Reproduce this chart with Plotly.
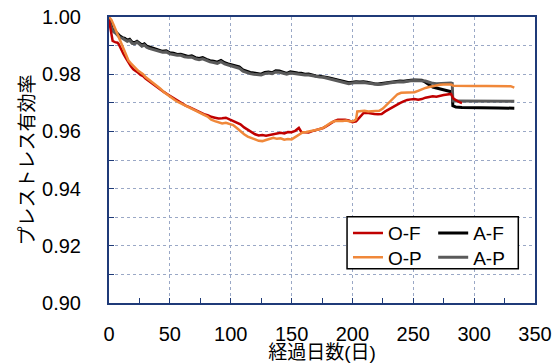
import plotly.graph_objects as go

# ---- data ----
af_days = [0, 1, 2, 3, 5, 7, 9, 11, 13, 15, 17, 19, 21, 23, 25, 27, 29, 31, 33, 35, 38, 41, 44, 47, 50,
           53, 56, 59, 62, 65, 68, 71, 74, 77, 80, 83, 86, 89, 92, 95, 98, 101, 104, 107, 110, 113, 116,
           119, 122, 125, 128, 131, 134, 137, 140, 143, 146, 149, 152, 155, 158, 161, 164, 167, 170, 173,
           176, 179, 182, 185, 188, 191, 194, 197, 200, 203, 206, 209, 212, 215, 218, 221, 224, 227, 230,
           233, 236, 239, 242, 245, 248, 251, 254, 257, 260, 263, 266, 269, 272, 275, 278, 281, 282, 282.5,
           285, 290, 300, 310, 320, 333]
af_vals = [0.9995, 0.998, 0.997, 0.9955, 0.995, 0.994, 0.9933, 0.9928, 0.9925, 0.9918, 0.9922, 0.9912,
           0.991, 0.9915, 0.991, 0.9902, 0.9906, 0.9898, 0.9895, 0.9893, 0.9888, 0.9884, 0.988, 0.9882,
           0.9875, 0.9873, 0.9869, 0.987, 0.9865, 0.9862, 0.9864, 0.9858, 0.9855, 0.9858, 0.9852, 0.9847,
           0.9845, 0.9842, 0.9848, 0.984, 0.9836, 0.9833, 0.9828, 0.9826, 0.9815, 0.981, 0.9806, 0.9804,
           0.9802, 0.98, 0.9806, 0.9808, 0.9805, 0.9812, 0.9811, 0.9807, 0.9803, 0.9808, 0.9805, 0.9804,
           0.9803, 0.98, 0.9801, 0.9797, 0.9794, 0.9793, 0.9792, 0.9789, 0.9786, 0.9783, 0.978, 0.9777,
           0.9773, 0.977, 0.9772, 0.9774, 0.9773, 0.9774, 0.9772, 0.9769, 0.9767, 0.9766, 0.9768, 0.9768,
           0.9771, 0.9773, 0.9775, 0.9776, 0.9775, 0.9778, 0.9779, 0.978, 0.978, 0.9779, 0.9772, 0.9762,
           0.9755, 0.9752, 0.9749, 0.9746, 0.9743, 0.974, 0.9738, 0.969, 0.9685, 0.9684, 0.9684, 0.9683,
           0.9682, 0.9681]

ap_days = af_days
ap_vals = [0.9985, 0.9975, 0.9965, 0.9952, 0.9945, 0.9935, 0.9928, 0.9926, 0.992, 0.9915, 0.9918, 0.9908,
           0.9906, 0.9912, 0.9905, 0.9898, 0.9902, 0.9894, 0.989, 0.9888, 0.9884, 0.988, 0.9877, 0.9878,
           0.9871, 0.9869, 0.9866, 0.9866, 0.9861, 0.9859, 0.986, 0.9854, 0.9851, 0.9854, 0.9848, 0.9843,
           0.9841, 0.9838, 0.9844, 0.9836, 0.9832, 0.9829, 0.9824, 0.9821, 0.9811, 0.9806, 0.9802, 0.98,
           0.9798, 0.9797, 0.9802, 0.9804, 0.9802, 0.9808, 0.9807, 0.9803, 0.98, 0.9804, 0.9802, 0.98,
           0.9799, 0.9797, 0.9797, 0.9794, 0.9791, 0.979, 0.9789, 0.9786, 0.9783, 0.978, 0.9777, 0.9774,
           0.977, 0.9767, 0.9769, 0.9771, 0.977, 0.9771, 0.9769, 0.9767, 0.9765, 0.9764, 0.9765, 0.9766,
           0.9769, 0.9771, 0.9773, 0.9774, 0.9773, 0.9776, 0.9777, 0.9778, 0.9778, 0.9777, 0.9776, 0.9772,
           0.9768, 0.9767, 0.9768, 0.9768, 0.9769, 0.9769, 0.9768, 0.9706, 0.9706, 0.9706, 0.9706, 0.9706,
           0.9706, 0.9705]

of_days = [0, 1, 2, 3, 5, 7, 8, 10, 12, 14, 16, 18, 20, 22, 24, 26, 28, 30, 33, 36, 39, 42, 45, 48, 51,
           54, 57, 60, 63, 66, 69, 72, 75, 78, 81, 84, 87, 90, 93, 96, 99, 102, 105, 108, 111, 114, 117,
           120, 123, 126, 129, 132, 135, 138, 141, 144, 147, 150, 153, 156, 158, 161, 164, 167, 170, 173,
           176, 179, 182, 185, 188, 191, 194, 197, 200, 203, 206, 209, 212, 215, 218, 221, 224, 227, 230,
           233, 236, 239, 242, 245, 248, 251, 254, 257, 260, 263, 266, 269, 272, 275, 278, 281, 283, 286,
           288, 290]
of_vals = [0.999, 0.996, 0.993, 0.9916, 0.9912, 0.991, 0.9905, 0.9885, 0.987, 0.9855, 0.984, 0.9828,
           0.9817, 0.9812, 0.9805, 0.9797, 0.9793, 0.9785, 0.9775, 0.9766, 0.9758, 0.9748, 0.9738, 0.973,
           0.9722, 0.9714, 0.9705, 0.9698, 0.969, 0.9685, 0.9679, 0.9672, 0.9667, 0.966, 0.9657, 0.9651,
           0.9648, 0.9645, 0.9646, 0.9648, 0.9642, 0.9637, 0.9632, 0.9625, 0.9614, 0.9605, 0.9596, 0.959,
           0.9586, 0.9587, 0.9585, 0.9588, 0.959, 0.9592, 0.9595, 0.9593, 0.9598, 0.9597, 0.9602, 0.9612,
           0.9598, 0.9597, 0.9596, 0.9601, 0.9605, 0.9607, 0.9612, 0.9619, 0.9628, 0.9636, 0.9641, 0.9642,
           0.9641, 0.9638, 0.9632, 0.9635, 0.9648, 0.9664, 0.9665, 0.9662, 0.9661, 0.966, 0.9661, 0.967,
           0.9678, 0.9684, 0.9692, 0.9699, 0.9705, 0.971, 0.9712, 0.9713, 0.9711, 0.9713, 0.9718, 0.972,
           0.9723, 0.9721, 0.9725, 0.9727, 0.9729, 0.9731, 0.9715, 0.9706, 0.9702, 0.9699]

op_days = [0, 2, 4, 6, 8, 10, 12, 14, 16, 18, 20, 22, 24, 26, 28, 30, 33, 36, 39, 42, 45, 48, 51, 54, 57,
           60, 63, 66, 69, 72, 75, 78, 81, 84, 87, 90, 93, 96, 99, 102, 105, 108, 111, 114, 117, 120, 123,
           126, 129, 132, 135, 138, 141, 144, 147, 150, 153, 156, 159, 162, 165, 168, 171, 174, 177, 180,
           183, 186, 189, 192, 195, 198, 201, 203, 204, 207, 210, 213, 216, 219, 222, 225, 228, 231, 234,
           237, 240, 244, 248, 251, 254, 257, 260, 263, 266, 269, 272, 275, 278, 281, 283, 290, 300, 310,
           320, 330, 333]
op_vals = [1.0, 0.999, 0.997, 0.995, 0.9925, 0.9905, 0.9885, 0.9865, 0.9848, 0.9838, 0.9828, 0.982,
           0.9812, 0.9806, 0.98, 0.979, 0.978, 0.9772, 0.976, 0.975, 0.9738, 0.9728, 0.9718, 0.971, 0.9702,
           0.9695, 0.9689, 0.9684, 0.9677, 0.9671, 0.9663, 0.9658, 0.9652, 0.9641, 0.9636, 0.9632, 0.9628,
           0.963, 0.9625, 0.9622, 0.9612, 0.96, 0.959, 0.9582, 0.9578, 0.9572, 0.9567, 0.9566, 0.957,
           0.9575, 0.9578, 0.9574, 0.9576, 0.9571, 0.9573, 0.9572, 0.958, 0.959, 0.9596, 0.9598, 0.96,
           0.9603, 0.9606, 0.9609, 0.9615, 0.9624, 0.9632, 0.9636, 0.9635, 0.9636, 0.9638, 0.9635, 0.9636,
           0.9642, 0.967, 0.9671, 0.9672, 0.967, 0.9671, 0.967, 0.9672, 0.968, 0.9693, 0.9706, 0.9718,
           0.973, 0.9735, 0.9735, 0.9736, 0.9737, 0.9742, 0.9748, 0.9752, 0.9755, 0.9758, 0.976, 0.9763,
           0.9764, 0.9764, 0.9764, 0.976, 0.9759, 0.9759, 0.9759, 0.9759, 0.9758, 0.9753]

x_tick_vals = [0, 50, 100, 150, 200, 250, 300, 350]
y_tick_vals = [0.90, 0.92, 0.94, 0.96, 0.98, 1.00]

FONT = "Liberation Sans, Arial, Noto Sans CJK JP, sans-serif"
AXIS_COLOR = "#1F3A78"
GRID_COLOR = "#9AA8C6"

fig = go.Figure()
fig.add_trace(go.Scatter(x=af_days, y=af_vals, mode="lines", name="A-F",
                         line=dict(color="#000000", width=3), legend="legend2"))
fig.add_trace(go.Scatter(x=ap_days, y=ap_vals, mode="lines", name="A-P",
                         line=dict(color="#5A5A5A", width=3), legend="legend4"))
fig.add_trace(go.Scatter(x=of_days, y=of_vals, mode="lines", name="O-F",
                         line=dict(color="#C00000", width=2.5), legend="legend"))
fig.add_trace(go.Scatter(x=op_days, y=op_vals, mode="lines", name="O-P",
                         line=dict(color="#F0883A", width=2.5), legend="legend3"))

legend_common = dict(bgcolor="rgba(0,0,0,0)", borderwidth=0,
                     font=dict(family=FONT, size=19, color="#000000"),
                     yanchor="top", xanchor="left", tracegroupgap=0)

fig.update_layout(
    width=558, height=363,
    margin=dict(l=109, r=23, t=17, b=60, autoexpand=False),
    paper_bgcolor="white", plot_bgcolor="white",
    font=dict(family=FONT, size=20, color="#000000"),
    showlegend=True,
    legend=dict(x=0.561, y=0.3105, **legend_common),
    legend2=dict(x=0.761, y=0.3105, **legend_common),
    legend3=dict(x=0.561, y=0.2255, **legend_common),
    legend4=dict(x=0.761, y=0.2255, **legend_common),
    shapes=[dict(type="rect", xref="paper", yref="paper", x0=0.5588, x1=0.9608, y0=0.12, y1=0.3017,
                 line=dict(color="#000000", width=1.5), fillcolor="white", layer="above")],
    xaxis=dict(range=[0, 350], tickvals=x_tick_vals, ticks="inside", ticklen=5, tickcolor=AXIS_COLOR,
               showline=True, linecolor=AXIS_COLOR, linewidth=2, mirror=True, automargin=False,
               showgrid=True, gridcolor=GRID_COLOR, griddash="3px,3px", gridwidth=1,
               minor=dict(dtick=25, ticks="inside", ticklen=5, tickcolor=AXIS_COLOR, showgrid=False),
               tickfont=dict(size=20), ticklabelstandoff=12, zeroline=False,
               title=dict(text="経過日数(日)", font=dict(size=19), standoff=6)),
    yaxis=dict(range=[0.90, 1.00], tickvals=y_tick_vals, tickformat=".2f", ticks="inside", ticklen=5,
               tickcolor=AXIS_COLOR, showline=True, linecolor=AXIS_COLOR, linewidth=2, mirror=True,
               automargin=False,
               showgrid=True, gridcolor=GRID_COLOR, griddash="3px,3px", gridwidth=1,
               minor=dict(dtick=0.01, ticks="inside", ticklen=5, tickcolor=AXIS_COLOR, showgrid=True,
                          gridcolor=GRID_COLOR, griddash="3px,3px", gridwidth=1),
               tickfont=dict(size=20), ticklabelstandoff=22, zeroline=False,
               title=dict(text="プレストレス有効率", font=dict(size=19), standoff=2)),
)

fig.write_html("out.html", config={"displayModeBar": False},
               post_script="document.body.style.margin='0';")
